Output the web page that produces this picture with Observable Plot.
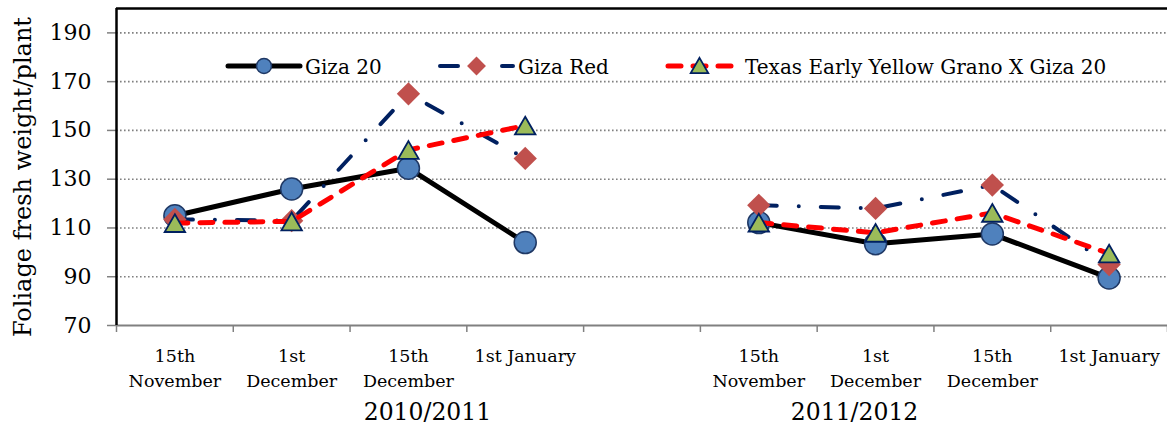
<!DOCTYPE html>
<html>
<head>
<meta charset="utf-8">
<script src="https://cdn.jsdelivr.net/npm/d3@7"></script>
<script src="https://cdn.jsdelivr.net/npm/@observablehq/plot@0.6"></script>
<style>
  html, body { margin: 0; padding: 0; background: #fff; }
  #wrap { position: relative; width: 1167px; height: 428px; }
  #legend { position: absolute; left: 0; top: 0; pointer-events: none; }
</style>
</head>
<body>
<div id="wrap"></div>
<script>
// ---- data ----
const categories = ["15th\nNovember", "1st\nDecember", "15th\nDecember", "1st January"];
const seasons = ["2010/2011", "2011/2012"];
const seriesNames = ["Giza 20", "Giza Red", "Texas Early Yellow Grano X Giza 20"];
const giza20  = [115, 126, 134.5, 104,   112.2, 103.5, 107.5, 89.5];
const gizaRed = [113.5, 113, 165, 138.5, 119.3, 118, 127.6, 95];
const texas   = [112, 112.7, 142, 152,   112.2, 108, 116.2, 99.5];
const yTicks = [70, 90, 110, 130, 150, 170, 190];
const yMax = 200;
const yTitle = "Foliage fresh weight/plant";

// ---- build table ----
const slotsPerSeason = categories.length + 1; // one blank slot between seasons
const nSlots = seasons.length * slotsPerSeason - 1;
const allSeries = [giza20, gizaRed, texas];
const rows = [];
allSeries.forEach((vals, si) => {
  vals.forEach((v, i) => {
    const s = Math.floor(i / categories.length);
    const c = i % categories.length;
    rows.push({series: seriesNames[si], season: seasons[s], slot: s * slotsPerSeason + c, cat: c, value: v});
  });
});
const labelSlots = [];
seasons.forEach((s, si) => categories.forEach((c, ci) => labelSlots.push(si * slotsPerSeason + ci)));
const boundaries = d3.range(nSlots + 1).map(i => i - 0.5);

const styles = [
  {stroke: "#000000", width: 5, dash: null, symbol: "circle", r: 11, fill: "#4F81BD", mstroke: "#1F3864", mwidth: 1.5, dy: 0},
  {stroke: "#002060", width: 4, dash: "18,22,0,22", symbol: "diamond2", r: 10.5, fill: "#C0504D", mstroke: "none", mwidth: 0, dy: 0},
  {stroke: "#FF0000", width: 5, dash: "13,12", symbol: "triangle", r: 7.6, fill: "#9BBB59", mstroke: "#002060", mwidth: 1.8, dy: 3}
];

const seriesMarks = [];
seriesNames.forEach((name, i) => {
  const st = styles[i];
  const d = rows.filter(r => r.series === name);
  seriesMarks.push(Plot.line(d, {
    x: "slot", y: "value", z: "season",
    stroke: st.stroke, strokeWidth: st.width,
    strokeDasharray: st.dash, strokeLinecap: "round", strokeLinejoin: "round"
  }));
  seriesMarks.push(Plot.dot(d, {
    x: "slot", y: "value", symbol: st.symbol, r: st.r,
    fill: st.fill, stroke: st.mstroke, strokeWidth: st.mwidth, dy: st.dy
  }));
});

const chart = Plot.plot({
  width: 1167,
  height: 428,
  marginLeft: 116,
  marginRight: 0,
  marginTop: 8,
  marginBottom: 103,
  style: {fontFamily: "'DejaVu Serif', serif", color: "#000", background: "#fff", overflow: "visible"},
  x: {domain: [-0.5, nSlots - 0.5]},
  y: {domain: [yTicks[0], yMax]},
  marks: [
    Plot.gridY(yTicks.slice(1), {stroke: "#808080", strokeOpacity: 1, strokeWidth: 1.6, strokeDasharray: "1.6,2.4"}),
    Plot.axisY({ticks: yTicks, tickSize: 9, tickFormat: () => "", label: null, stroke: "#808080", strokeWidth: 1.5}),
    Plot.text(yTicks, {y: d => d, text: d => String(d), frameAnchor: "left", textAnchor: "end", dx: -25, fontSize: 22, fill: "#000"}),
    Plot.axisX({ticks: boundaries, tickSize: 7, tickFormat: () => "", label: null, stroke: "#808080", strokeWidth: 1.5}),
    Plot.axisX({ticks: labelSlots, tickSize: 0, tickPadding: 19, fontSize: 17.5, lineHeight: 1.43, lineAnchor: "top",
                tickFormat: i => categories[i % slotsPerSeason], label: null}),
    Plot.text([seasons[0]], {x: () => 2, frameAnchor: "bottom", lineAnchor: "top", dy: 78, dx: 19, fontSize: 23.5}),
    Plot.text([seasons[1]], {x: () => slotsPerSeason + 1, frameAnchor: "bottom", lineAnchor: "top", dy: 78, dx: -21, fontSize: 23.5}),
    Plot.ruleY([yTicks[0]], {stroke: "#808080", strokeWidth: 2}),
    ...seriesMarks,
    Plot.ruleX([-0.5], {y1: yTicks[0], y2: yMax, stroke: "#000", strokeWidth: 2.5}),
    Plot.ruleY([yMax], {stroke: "#000", strokeWidth: 2.5})
  ]
});

const wrap = document.getElementById("wrap");
wrap.appendChild(chart);

// ---- overlay: y title and legend ----
const lg = d3.select(wrap).append("svg")
  .attr("id", "legend").attr("width", 1167).attr("height", 428);

lg.append("text")
  .attr("transform", "translate(31,177) rotate(-90)")
  .attr("text-anchor", "middle")
  .attr("font-family", "'DejaVu Serif', serif").attr("font-size", 24)
  .attr("fill", "#000")
  .text(yTitle);

const legendLayout = [
  {x: 228, len: 72, tx: 305},
  {x: 440, len: 73, tx: 518},
  {x: 668, len: 63, tx: 745}
];
const ly = 66;
seriesNames.forEach((name, i) => {
  const st = styles[i];
  const L = legendLayout[i];
  lg.append("line")
    .attr("x1", L.x).attr("x2", L.x + L.len).attr("y1", ly).attr("y2", ly)
    .attr("stroke", st.stroke).attr("stroke-width", st.width)
    .attr("stroke-linecap", "round")
    .attr("stroke-dasharray", st.dash);
  const symType = i === 0 ? d3.symbolCircle : (i === 1 ? d3.symbolDiamond2 : d3.symbolTriangle);
  const rr = i === 0 ? 7.5 : (i === 1 ? 8.5 : 6.5);
  lg.append("path")
    .attr("d", d3.symbol(symType, Math.PI * rr * rr)())
    .attr("transform", `translate(${L.x + L.len / 2},${ly + (i === 2 ? 2 : 0)})`)
    .attr("fill", st.fill).attr("stroke", st.mstroke).attr("stroke-width", st.mwidth);
  lg.append("text")
    .attr("x", L.tx).attr("y", ly + 8)
    .attr("font-family", "'DejaVu Serif', serif").attr("font-size", 20)
    .attr("fill", "#000")
    .text(name);
});
</script>
</body>
</html>
